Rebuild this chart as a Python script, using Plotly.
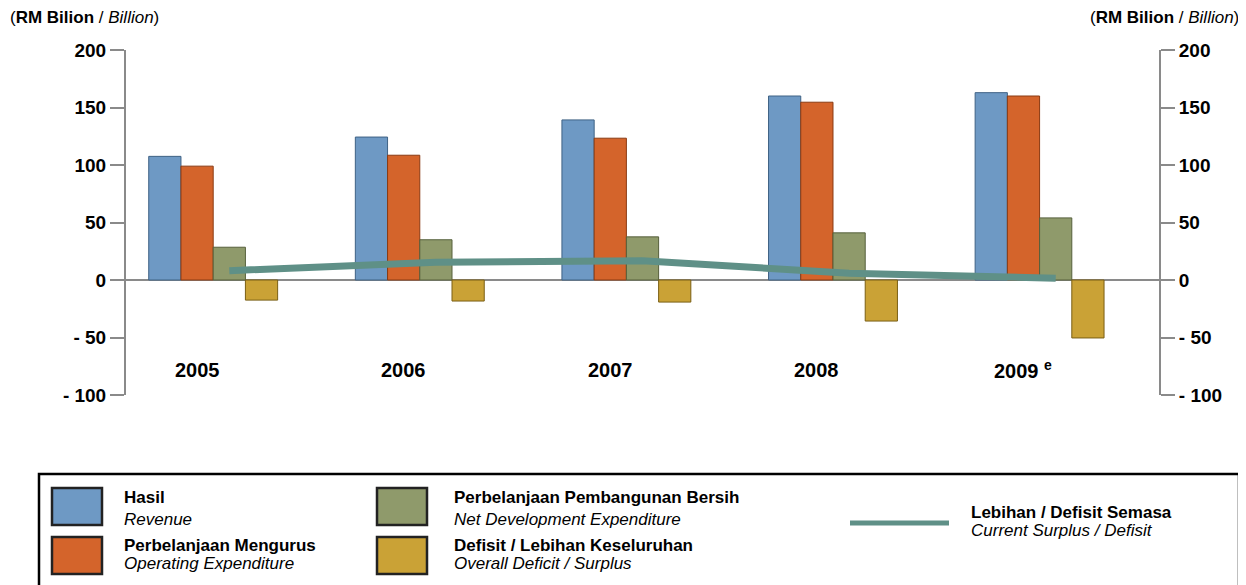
import plotly.graph_objects as go

years = ['2005', '2006', '2007', '2008', '2009 <sup>e</sup>']
hasil = [107.5, 124.3, 139.2, 160.0, 162.9]
mengurus = [99.0, 108.5, 123.3, 154.6, 160.0]
pembangunan = [28.5, 35.0, 37.5, 41.0, 54.0]
defisit = [-17.5, -18.3, -19.2, -35.7, -50.4]
semasa = [8.1, 15.4, 16.8, 5.9, 1.5]

tick_vals = [-100, -50, 0, 50, 100, 150, 200]
tick_text = ['- 100', '- 50', '0', '50', '100', '150', '200']

FONT = 'Liberation Sans, Arial'
AXIS_GREY = '#8a8a8a'

# the page body adds 8px around the figure, so page coords = figure coords + 8
O = 8
W_FIG, H_FIG = 1246 - O, 585 - O
# plot area in page pixels
L, R, T, B = 126, 1159, 50, 395


def px(x):
    return (x - L) / (R - L)


def py(y):
    return (B - y) / (B - T)


xs = list(range(len(years)))
bw = 0.156  # one bar slot, five slots per year (centre slot = green)

series = [
    ('Hasil', hasil, '#6e99c4', '#3f6285', -2.5),
    ('Perbelanjaan Mengurus', mengurus, '#d4642b', '#8a3a12', -1.5),
    ('Perbelanjaan Pembangunan Bersih', pembangunan, '#8f9a6b', '#56603c', -0.5),
    ('Defisit / Lebihan Keseluruhan', defisit, '#caa236', '#7a5f14', 0.5),
]

fig = go.Figure()
for name, vals, col, edge, off in series:
    fig.add_trace(go.Bar(x=xs, y=vals, name=name, width=bw, offset=off * bw,
                         marker=dict(color=col, line=dict(color=edge, width=1)),
                         showlegend=False))

fig.add_trace(go.Scatter(x=xs, y=semasa, mode='lines', name='Lebihan / Defisit Semasa',
                         line=dict(color='#5f9087', width=7), showlegend=False))

# phantom trace so the right axis is drawn
fig.add_trace(go.Scatter(x=[xs[0]], y=[0], yaxis='y2', mode='markers',
                         marker=dict(opacity=0), showlegend=False, hoverinfo='skip'))

ann = []
for i, lab in enumerate(years):
    ann.append(dict(x=i - bw, y=-78, xref='x', yref='y', text='<b>' + lab + '</b>',
                    showarrow=False, font=dict(size=20, family=FONT, color='black')))

unit = '(<b>RM Bilion</b> / <i>Billion</i>)'
ann.append(dict(x=px(8), y=py(18), xref='paper', yref='paper', text=unit, showarrow=False,
                xanchor='left', yanchor='middle', font=dict(size=17, family=FONT, color='black')))
ann.append(dict(x=px(1241), y=py(18), xref='paper', yref='paper', text=unit, showarrow=False,
                xanchor='right', yanchor='middle', font=dict(size=17, family=FONT, color='black')))

shapes = []
# legend frame
shapes.append(dict(type='rect', xref='paper', yref='paper', x0=px(39), x1=px(1239),
                   y0=py(600), y1=py(474), line=dict(color='black', width=2.5)))

legend_items = [
    ('rect', '#6e99c4', 52, 488, 'Hasil', 'Revenue', 122, 497, 519),
    ('rect', '#d4642b', 52, 537, 'Perbelanjaan Mengurus', 'Operating Expenditure', 122, 545, 563),
    ('rect', '#8f9a6b', 377, 488, 'Perbelanjaan Pembangunan Bersih', 'Net Development Expenditure', 452, 497, 519),
    ('rect', '#caa236', 377, 537, 'Defisit / Lebihan Keseluruhan', 'Overall Deficit / Surplus', 452, 545, 563),
    ('line', '#5f9087', 850, 523, 'Lebihan / Defisit Semasa', 'Current Surplus / Defisit', 969, 512, 530),
]
for kind, col, sx, sy, t1, t2, tx, ty1, ty2 in legend_items:
    if kind == 'rect':
        shapes.append(dict(type='rect', xref='paper', yref='paper', x0=px(sx), x1=px(sx + 50),
                           y0=py(sy + 37), y1=py(sy), fillcolor=col,
                           line=dict(color='#222222', width=2.5)))
    else:
        shapes.append(dict(type='line', xref='paper', yref='paper', x0=px(sx), x1=px(sx + 99),
                           y0=py(sy), y1=py(sy), line=dict(color=col, width=5)))
    ann.append(dict(x=px(tx), y=py(ty1), xref='paper', yref='paper', text='<b>' + t1 + '</b>',
                    showarrow=False, xanchor='left', yanchor='middle',
                    font=dict(size=17, family=FONT, color='black')))
    ann.append(dict(x=px(tx), y=py(ty2), xref='paper', yref='paper', text='<i>' + t2 + '</i>',
                    showarrow=False, xanchor='left', yanchor='middle',
                    font=dict(size=17, family=FONT, color='black')))

yax = dict(range=[-100, 200], tickvals=tick_vals, ticktext=['<b>' + t + '</b>' for t in tick_text],
           showgrid=False, showline=True, linecolor=AXIS_GREY, linewidth=2, ticks='outside',
           ticklen=14, tickwidth=2, tickcolor=AXIS_GREY,
           tickfont=dict(size=19, family=FONT, color='black'), fixedrange=True)

fig.update_layout(
    width=W_FIG, height=H_FIG,
    margin=dict(l=L - O, r=W_FIG - (R - O), t=T - O, b=H_FIG - (B - O)),
    plot_bgcolor='white', paper_bgcolor='white',
    barmode='overlay',
    xaxis=dict(range=[-0.5, 4.5], visible=False, fixedrange=True),
    yaxis=dict(yax, zeroline=True, zerolinecolor=AXIS_GREY, zerolinewidth=2),
    yaxis2=dict(yax, overlaying='y', side='right', zeroline=False),
    annotations=ann,
    shapes=shapes,
    showlegend=False,
)

fig.write_html('out.html')
